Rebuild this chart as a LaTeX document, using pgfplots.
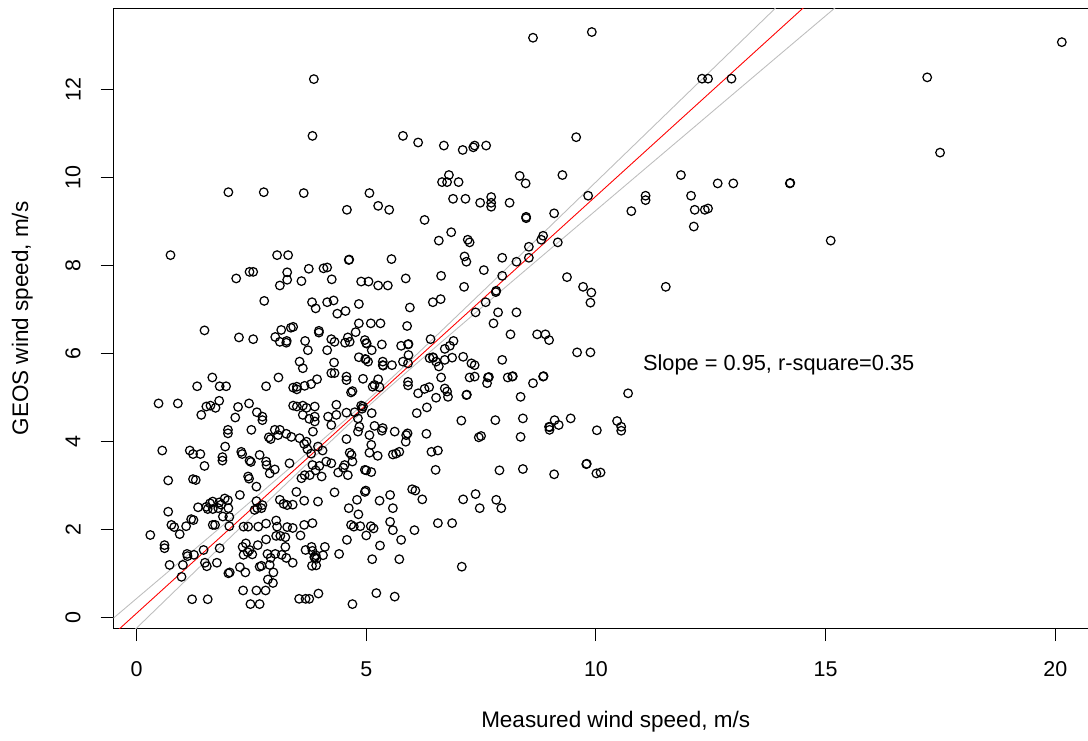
\documentclass[border=0pt]{standalone}
\usepackage{pgfplots}
\pgfplotsset{compat=1.18}
\usepackage{fontspec}
\setmainfont{Liberation Sans}
\definecolor{bandgray}{RGB}{190,190,190}

\pgfplotstableread{
x y
2.00 9.66
2.77 9.66
3.86 12.23
3.83 10.94
5.80 10.94
6.13 10.79
6.69 10.72
7.10 10.62
7.33 10.68
7.36 10.72
7.61 10.72
6.80 10.05
6.65 9.89
6.76 9.89
7.01 9.89
6.89 9.51
7.16 9.51
3.64 9.64
5.07 9.64
4.58 9.26
5.26 9.35
5.50 9.26
8.63 13.17
9.91 13.30
9.57 10.91
8.34 10.03
8.47 9.86
9.27 10.05
7.48 9.42
7.72 9.55
7.72 9.42
7.72 9.33
8.12 9.42
9.09 9.18
9.83 9.58
11.08 9.58
11.08 9.48
10.77 9.23
8.48 9.10
20.14 13.07
17.21 12.27
17.49 10.56
12.31 12.24
12.44 12.24
12.95 12.24
11.85 10.05
12.65 9.86
12.99 9.86
14.22 9.86
14.23 9.87
12.07 9.58
12.15 9.26
12.37 9.26
12.44 9.29
12.13 8.88
15.11 8.56
11.52 7.51
7.45 4.09
7.50 4.12
8.36 4.10
10.02 4.25
10.55 4.24
7.90 3.34
8.41 3.37
9.09 3.25
9.79 3.48
9.80 3.49
10.01 3.27
10.10 3.29
7.38 2.80
7.47 2.48
7.83 2.67
7.94 2.48
8.48 9.07
8.85 8.67
8.81 8.58
8.54 8.42
9.17 8.52
7.96 8.17
8.27 8.08
8.54 8.17
7.56 7.89
7.96 7.76
9.37 7.73
9.72 7.51
9.90 7.38
9.88 7.15
7.82 7.39
7.83 7.42
7.60 7.16
7.38 6.93
7.87 6.93
8.27 6.93
7.77 6.68
8.14 6.43
8.72 6.43
8.90 6.43
8.98 6.30
9.59 6.02
9.88 6.02
7.96 5.85
7.36 5.73
7.36 5.47
7.65 5.45
7.67 5.46
7.63 5.32
8.08 5.45
8.18 5.47
8.19 5.48
8.63 5.32
8.85 5.47
8.86 5.48
8.36 5.01
10.70 5.09
7.81 4.48
8.41 4.52
9.10 4.48
8.98 4.33
8.99 4.32
9.19 4.37
9.45 4.52
10.46 4.46
10.55 4.33
8.99 4.26
7.21 8.58
7.25 8.52
0.74 8.23
3.06 8.23
3.30 8.23
2.17 7.70
2.46 7.85
2.54 7.85
3.28 7.84
3.28 7.67
3.12 7.54
2.78 7.19
1.48 6.52
2.23 6.36
2.54 6.32
3.02 6.37
3.15 6.53
3.36 6.58
3.12 6.26
3.26 6.24
3.27 6.28
1.65 5.45
1.32 5.25
1.81 5.25
1.95 5.25
2.82 5.25
3.09 5.45
3.41 5.22
0.48 4.86
0.90 4.86
1.41 4.60
1.52 4.79
1.61 4.81
1.72 4.76
1.80 4.92
2.21 4.78
2.45 4.86
2.15 4.54
2.62 4.66
2.74 4.56
2.74 4.48
3.41 4.81
1.99 4.26
2.50 4.26
3.01 4.26
3.12 4.26
6.27 9.03
6.85 8.75
6.58 8.56
7.14 8.20
7.18 8.08
4.62 8.12
4.63 8.13
5.55 8.14
3.75 7.92
4.07 7.93
4.15 7.95
3.59 7.64
4.25 7.68
4.89 7.63
5.05 7.63
5.26 7.54
5.47 7.54
5.86 7.70
6.63 7.76
7.13 7.51
3.82 7.16
3.90 7.02
4.15 7.16
4.29 7.20
4.37 6.90
4.55 6.96
4.84 7.12
5.95 7.04
6.45 7.16
6.62 7.23
3.41 6.60
4.84 6.68
5.10 6.68
5.31 6.68
5.89 6.62
3.97 6.51
3.97 6.47
4.60 6.36
4.77 6.48
4.24 6.32
4.31 6.26
3.67 6.28
3.73 6.07
4.15 6.07
4.54 6.24
4.64 6.26
4.97 6.30
5.00 6.23
5.01 6.22
5.12 6.07
5.34 6.20
5.91 6.20
5.92 6.21
5.76 6.17
6.40 6.32
6.82 6.17
6.90 6.28
6.71 6.10
5.92 5.96
4.84 5.91
4.98 5.87
4.99 5.86
5.04 5.81
5.36 5.81
5.36 5.73
5.37 5.72
5.56 5.73
5.80 5.81
5.91 5.77
6.38 5.89
6.45 5.91
6.46 5.90
6.52 5.81
6.71 5.85
6.58 5.70
6.87 5.90
7.11 5.92
7.29 5.77
3.55 5.81
3.62 5.66
4.30 5.79
4.24 5.55
4.31 5.55
4.57 5.47
4.57 5.39
3.93 5.41
3.80 5.30
3.66 5.26
3.49 5.24
3.49 5.18
4.93 5.42
5.18 5.28
5.26 5.41
5.29 5.23
5.14 5.24
5.91 5.35
5.91 5.27
6.13 5.09
6.27 5.19
6.37 5.23
6.63 5.45
6.71 5.20
6.76 5.13
6.78 5.01
6.52 4.99
7.18 5.05
7.19 5.06
7.25 5.45
4.67 5.11
4.70 5.14
4.35 4.83
4.89 4.81
4.93 4.79
4.91 4.74
4.35 4.60
4.17 4.56
4.57 4.65
4.75 4.66
5.12 4.64
3.70 4.76
3.88 4.79
3.62 4.81
3.49 4.79
3.62 4.60
3.88 4.56
3.88 4.45
3.76 4.51
4.24 4.37
4.82 4.52
4.85 4.33
5.18 4.35
5.36 4.30
6.10 4.64
6.32 4.77
7.07 4.47
0.56 3.79
1.16 3.79
1.23 3.71
1.39 3.71
1.48 3.44
1.93 3.88
1.87 3.64
1.87 3.56
1.99 4.18
2.28 3.76
2.30 3.71
2.46 3.56
2.49 3.53
2.68 3.69
2.88 4.09
2.92 4.05
2.82 3.54
2.83 3.46
2.90 3.27
3.01 3.36
3.08 4.14
3.26 4.17
3.33 3.50
0.69 3.11
1.23 3.14
1.29 3.12
2.43 3.20
2.45 3.15
2.61 2.97
2.25 2.78
1.92 2.70
1.99 2.66
1.66 2.63
1.60 2.59
1.52 2.51
1.55 2.46
1.66 2.46
1.78 2.48
1.84 2.56
1.80 2.61
1.34 2.50
2.00 2.48
1.88 2.29
2.02 2.28
0.69 2.40
1.19 2.23
1.24 2.21
1.08 2.07
0.76 2.10
0.82 2.05
0.94 1.89
0.30 1.87
1.66 2.10
1.71 2.10
2.02 2.07
2.57 2.44
2.63 2.48
2.72 2.48
2.74 2.55
2.61 2.64
3.12 2.67
3.28 2.55
3.20 2.58
2.33 2.06
2.43 2.06
2.65 2.06
2.82 2.13
3.04 2.20
3.06 2.06
3.28 2.05
2.82 1.77
3.04 1.85
3.13 1.85
2.64 1.64
2.38 1.68
2.31 1.60
2.46 1.53
2.42 1.48
2.33 1.42
2.52 1.43
2.85 1.44
2.92 1.35
3.02 1.44
3.16 1.42
3.26 1.35
3.24 1.60
2.90 1.19
2.72 1.17
2.98 1.02
2.86 0.86
2.97 0.78
2.25 1.14
2.03 1.02
2.00 1.00
2.37 1.02
2.68 1.15
1.81 1.57
1.75 1.24
1.49 1.24
1.53 1.16
1.46 1.53
1.25 1.42
1.10 1.44
1.11 1.39
0.72 1.19
1.01 1.19
0.98 0.92
0.61 1.64
0.61 1.57
1.21 0.41
1.55 0.41
2.32 0.61
2.61 0.61
2.81 0.61
2.48 0.30
2.68 0.30
3.37 4.10
3.24 1.82
3.84 4.22
4.82 4.22
5.07 4.14
5.34 4.24
5.62 4.22
5.87 4.14
5.90 4.18
5.86 3.99
6.31 4.17
4.57 4.05
3.55 4.07
3.65 3.94
3.70 3.99
3.95 3.88
3.72 3.82
4.05 3.79
3.80 3.72
4.13 3.54
4.24 3.50
3.83 3.46
3.98 3.44
3.90 3.34
3.66 3.23
3.77 3.23
3.59 3.16
4.03 3.20
4.39 3.29
4.53 3.46
4.50 3.40
4.60 3.23
4.64 3.74
4.68 3.69
4.70 3.54
5.11 3.92
5.07 3.74
5.25 3.67
5.58 3.70
5.65 3.72
5.72 3.76
6.42 3.76
6.56 3.79
6.51 3.35
4.97 3.35
5.00 3.34
5.11 3.30
3.48 2.85
4.31 2.84
4.97 2.85
4.99 2.88
4.80 2.67
4.62 2.48
4.83 2.34
5.29 2.65
5.52 2.78
5.58 2.48
6.00 2.91
6.07 2.88
6.22 2.68
7.11 2.68
3.65 2.65
3.95 2.63
3.40 2.56
4.67 2.10
4.73 2.06
4.87 2.07
5.10 2.07
5.16 2.02
5.00 1.86
5.52 2.17
5.58 1.98
5.76 1.76
6.05 1.98
6.56 2.14
6.87 2.14
4.58 1.76
5.30 1.63
5.13 1.32
5.72 1.32
7.08 1.15
3.65 2.10
3.83 2.14
3.57 1.86
3.40 2.03
4.10 1.60
3.81 1.60
3.68 1.53
3.83 1.51
3.90 1.41
3.87 1.37
3.88 1.36
3.92 1.33
4.06 1.41
4.41 1.44
3.82 1.17
3.91 1.18
3.40 1.24
3.54 0.42
3.68 0.42
3.76 0.42
3.96 0.54
5.22 0.55
5.62 0.47
4.70 0.30
}\windtable

\begin{document}
\begin{tikzpicture}
\begin{axis}[
  name=ax,
  scale only axis,
  width=19.494cm, height=12.392cm,
  xmin=-0.505, xmax=20.71,
  ymin=-0.25, ymax=13.83,
  axis x line*=box, axis y line*=left,
  axis line style={-, black, line width=0.6pt},
  xtick={0,5,10,15,20}, ytick={0,2,4,6,8,10,12},
  xtick pos=bottom, ytick pos=left,
  tick align=outside,
  major tick length=0.254cm,
  tick style={black, line width=0.6pt},
  /pgf/number format/assume math mode=true,
  ticklabel style={font=\fontsize{12.2}{14}\selectfont, text=black},
  xticklabel style={anchor=center, yshift=-0.56cm},
  yticklabel style={xshift=-0.55cm, rotate=90, anchor=center},
  xlabel={Measured wind speed, m/s},
  ylabel={GEOS wind speed, m/s},
  label style={font=\fontsize{12.8}{15}\selectfont},
  xlabel style={at={(axis description cs:0.5,0)}, anchor=center, yshift=-1.874cm, xshift=0.3cm},
  ylabel style={at={(axis description cs:0,0.5)}, anchor=center, yshift=1.82cm},
]
\addplot[only marks, mark=o, mark size=2.45pt, mark options={line width=0.7pt, black}] table[x=x, y=y] {\windtable};
% confidence band and fitted line
\addplot[bandgray, line width=0.5pt, smooth] coordinates {(-0.5,-0.017) (0,0.426) (2.5,2.644) (5.1,5.002) (7.5,7.372) (10,9.893) (12.5,12.42) (14,13.937)};
\addplot[bandgray, line width=0.5pt, smooth] coordinates {(-0.5,-0.751) (0,-0.246) (2.5,2.276) (5.1,4.848) (7.5,7.028) (10,9.247) (12.5,11.46) (14,12.787) (15.5,14.11)};
\addplot[red, line width=0.5pt] coordinates {(-0.5,-0.384) (15.5,14.784)};
\node[anchor=west, font=\fontsize{12.4}{14}\selectfont] at (axis cs:10.89,5.73) {Slope = 0.95, r-square=0.35};
\end{axis}
\pgfresetboundingbox
\path[use as bounding box] ([shift={(-2.266cm,-2.234cm)}]ax.south west) rectangle ([shift={(0cm,0.174cm)}]ax.north east);
\end{tikzpicture}
\end{document}
